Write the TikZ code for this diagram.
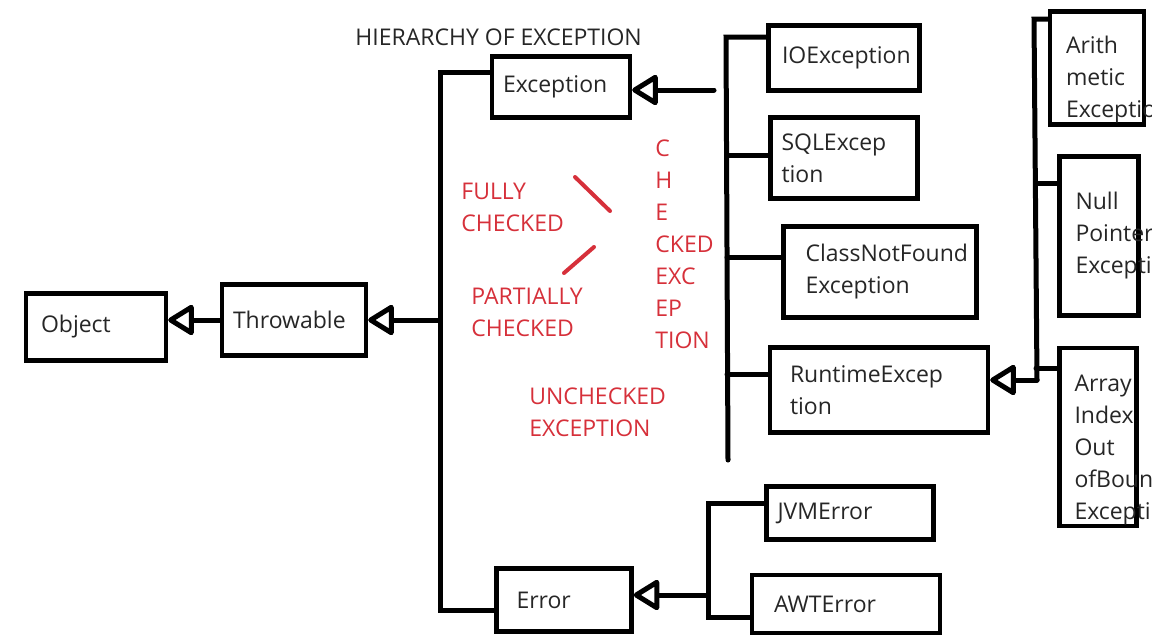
\documentclass[tikz,border=0pt]{standalone}
\usepackage{fontspec}
\setmainfont{Open Sans}
\usetikzlibrary{arrows.meta}
\definecolor{markred}{RGB}{214,48,58}
\definecolor{ink}{RGB}{38,38,38}
\tikzset{
  box/.style={draw, line width=2.2pt, inner sep=0pt, align=left, text=ink},
  wire/.style={line width=2.5pt, line cap=round},
  isa/.style={wire, -{Triangle[open, length=14pt, width=16.5pt, round]}},
  note/.style={text=markred, align=left, inner sep=0pt, anchor=west},
  slash/.style={line width=2pt, markred, line cap=round}
}
\begin{document}
\begin{tikzpicture}[x=0.5pt, y=-0.5pt, font=\fontsize{11.5}{16}\selectfont]
    \useasboundingbox (0,0) rectangle (1152,639);
    \node[anchor=west, inner sep=0pt, text=ink] (title) at (355,37) {HIERARCHY OF EXCEPTION};
    % classes
    \node[box, minimum width=70pt, minimum height=33.5pt, text width=55pt] (obj) at (96,327) {Object};
    \node[box, minimum width=72pt, minimum height=35.5pt, text width=61pt] (throw) at (294,320) {Throwable};
    \node[box, minimum width=69pt, minimum height=30.5pt, text width=58pt] (exc) at (561,87) {Exception};
    \node[box, minimum width=67.5pt, minimum height=31.5pt, text width=47.5pt] (err) at (564,600) {Error};
    \node[box, minimum width=75.5pt, minimum height=32.5pt, text width=62pt] (io) at (844,58) {IOException};
    \node[box, minimum width=73.5pt, minimum height=40.5pt, text width=62.5pt] (sql) at (844,158) {SQLExcep\\tion};
    \node[box, minimum width=96.5pt, minimum height=45.5pt, text width=74.5pt] (cnf) at (880,272) {ClassNotFound\\Exception};
    \node[box, minimum width=109pt, minimum height=42.5pt, text width=89pt] (run) at (879,390) {RuntimeExcep\\tion};
    \node[box, minimum width=83.5pt, minimum height=26.5pt, text width=72.5pt] (jvm) at (850,513) {JVMError};
    \node[box, minimum width=94pt, minimum height=29pt, text width=72pt] (awt) at (846,604) {AWTError};
    \node[box, minimum width=47pt, minimum height=56.5pt, text width=31pt] (arith) at (1097,68) {\rule{0pt}{20.5pt}Arith\\metic\\Exception};
    \node[box, minimum width=39.5pt, minimum height=79.5pt, text width=23.5pt] (null) at (1099,236) {Null\\Pointer\\Exception};
    \node[box, minimum width=38.5pt, minimum height=89pt, text width=23.5pt] (arr) at (1098,437) {\rule{0pt}{21.5pt}Array\\Index\\Out\\ofBounds\\Exception};
    % Throwable
    \coordinate (mt) at (440,72);
    \coordinate (mb) at (440,610);
    \draw[wire] (mt -| exc.west) -- (mt) -- (mb) -- (mb -| err.west);
    \draw[isa] (mt |- throw.east) -- (throw.east);
    \draw[isa] (throw.west) -- (throw.west -| obj.east);
    % Exception
    \coordinate (ct) at (726,37);
    \coordinate (cb) at (728,460);
    \coordinate (ca) at (714,90);
    \draw[wire] (ct -| io.west) -- (ct) -- (cb);
    \foreach \b/\y in {sql/155, cnf/257, run/374}
       \draw[wire] (727,\y) -- (\b.west |- 0,\y);
    \draw[isa] (ca) -- (ca -| exc.east);
    % Error
    \coordinate (et) at (708,503);
    \coordinate (eb) at (708,617);
    \coordinate (ea) at (708,595);
    \draw[wire] (et -| jvm.west) -- (et) -- (eb) -- (eb -| awt.west);
    \draw[isa] (ea) -- (ea -| err.east);
    % RuntimeException
    \coordinate (rt) at (1034,19);
    \coordinate (rb) at (1037,380);
    \draw[wire] (rt -| arith.west) -- (rt) -- (rb);
    \foreach \b/\y in {null/183, arr/368}
       \draw[wire] (1036,\y) -- (\b.west |- 0,\y);
    \draw[isa] (rb) -- (rb -| run.east);
    % notes
    \node[note] (fully) at (461,207) {FULLY\\CHECKED};
    \node[note] (part) at (471,312) {PARTIALLY\\CHECKED};
    \node[note] (chk) at (655,244) {C\\H\\E\\CKED\\EXC\\EP\\TION};
    \node[note] (unchk) at (529,412) {UNCHECKED\\EXCEPTION};
    \draw[slash] (575,177) -- (610,211);
    \draw[slash] (564,273) -- (594,247);
\end{tikzpicture}
\end{document}
